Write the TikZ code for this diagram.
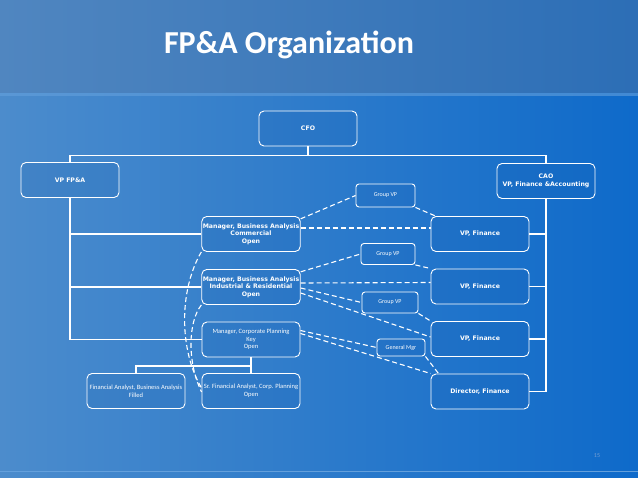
\documentclass[tikz,border=0pt]{standalone}
\usepackage{fontspec}
\setmainfont{Carlito}
\newfontfamily\verdfont{DejaVu Sans}

\definecolor{barleft}{RGB}{80,134,192}
\definecolor{barright}{RGB}{44,110,182}
\definecolor{slideleft}{RGB}{76,140,204}
\definecolor{slideright}{RGB}{14,106,202}
\definecolor{stripblue}{RGB}{100,160,220}
\definecolor{boxblue}{RGB}{20,90,170}
\definecolor{pagegray}{RGB}{120,160,210}

\begin{document}
\begin{tikzpicture}[
    x=1pt, y=-1pt,
    box/.style={draw=white, line width=0.9pt, rounded corners=5pt,
                fill=boxblue, fill opacity=0.15, text opacity=1, text=white,
                minimum width=98pt, minimum height=35pt, align=center,
                inner sep=1pt},
    bold/.style={box, font=\verdfont\bfseries\fontsize{6.2}{7.4}\selectfont},
    light/.style={box, font=\fontsize{6.5}{7.6}\selectfont},
    tag/.style={box, rounded corners=3pt, minimum height=21pt,
                font=\fontsize{6}{7}\selectfont},
    tree/.style={white, line width=1.9pt},
    link/.style={white, line width=1.1pt, dash pattern=on 5pt off 3pt}
]
\useasboundingbox (0,0) rectangle (638,478);

% Background
\shade[left color=slideleft, right color=slideright] (0,93) rectangle (638,478);
\shade[left color=barleft, right color=barright] (0,0) rectangle (638,93);
\fill[stripblue, opacity=0.6] (0,93) rectangle (638,96);
\draw[stripblue, line width=1pt] (0,472) -- (638,472);

% Title
\node[text=white, font=\bfseries\fontsize{32}{34}\selectfont] (title) at (289,45) {FP\&A Organization};

% Top level
\node[bold] (cfo) at (308,128.5) {CFO};
\node[bold] (vpfpa) at (70,180) {VP FP\&A};
\node[bold] (cao) at (546,181) {CAO\\VP, Finance \&Accounting};

% FP&A side
\node[bold] (mbac) at (251,234) {Manager, Business Analysis\\Commercial\\Open};
\node[bold] (mbai) at (251,287) {Manager, Business Analysis\\Industrial \& Residential\\Open};
\node[light] (mcp) at (251,339.5) {Manager, Corporate Planning\\Key\\Open};
\node[light] (fa) at (136,391) {Financial Analyst, Business Analysis\\Filled};
\node[light] (sfa) at (251,391) {Sr. Financial Analyst, Corp. Planning\\Open};

% Finance side
\node[bold] (vpf1) at (480,234) {VP, Finance};
\node[bold] (vpf2) at (480,286.5) {VP, Finance};
\node[bold] (vpf3) at (480,339) {VP, Finance};
\node[bold] (dirf) at (480,391.5) {Director, Finance};

% Dotted-line contacts
\node[tag, minimum width=59pt, minimum height=23pt] (gvp1) at (385.5,195.5) {Group VP};
\node[tag, minimum width=54pt] (gvp2) at (388,254) {Group VP};
\node[tag, minimum width=56pt] (gvp3) at (390,302.5) {Group VP};
\node[tag, minimum width=48pt, minimum height=17pt] (gm) at (401,347.5) {General Mgr};

\coordinate (bar) at (0,155.5);
\coordinate (split) at (0,366);

% Reporting lines
\draw[tree] (cfo.south) -- (cfo.south |- bar);
\draw[tree] (vpfpa.north) -- (vpfpa.north |- bar) -- (cao.north |- bar) -- (cao.north);
\draw[tree] (vpfpa.south) |- (mcp.west);
\draw[tree] (vpfpa.south |- mbac.west) -- (mbac.west);
\draw[tree] (vpfpa.south |- mbai.west) -- (mbai.west);
\draw[tree] (mcp.south) -- (sfa.north);
\draw[tree] (sfa.north |- split) -| (fa.north);
\draw[tree] (cao.south) |- (dirf.east);
\draw[tree] (cao.south |- vpf1.east) -- (vpf1.east);
\draw[tree] (cao.south |- vpf2.east) -- (vpf2.east);
\draw[tree] (cao.south |- vpf3.east) -- (vpf3.east);

% Dashed links
\draw[link] (mbac.17) -- (gvp1.west);
\draw[link] (gvp1.south east) -- (vpf1.158);
\draw[link] ([yshift=6pt]mbac.east) -- ([yshift=6pt]vpf1.west);
\draw[link] (mbai.17) -- (gvp2.west);
\draw[link] (gvp2.south east) -- (vpf2.160);
\draw[link] ([yshift=4pt]mbai.east) -- ([yshift=4pt]vpf2.west);
\draw[link] ([yshift=-1pt]mbai.east) -- (gvp3.west);
\draw[link] ([yshift=-6pt]mbai.east) -- ([yshift=2pt]vpf3.west);
\draw[link] (gvp3.south east) -- (vpf3.160);
\draw[link] ([yshift=9pt]mcp.east) -- (gm.west);
\draw[link] ([yshift=6pt]mcp.east) -- (dirf.160);
\draw[link] (gm.south east) -- ([xshift=8pt]dirf.north west);
\draw[link] (mbac.south west) .. controls (178,292) and (180,352) .. ([yshift=3pt]sfa.west);
\draw[link] (mbai.south west) .. controls (188,322) and (187,362) .. ([yshift=-1pt]sfa.west);

% Page number
\node[text=pagegray, font=\fontsize{6}{7}\selectfont] (page) at (597,456) {15};
\end{tikzpicture}
\end{document}
